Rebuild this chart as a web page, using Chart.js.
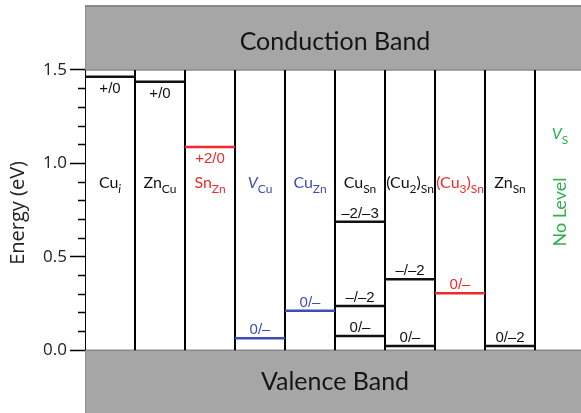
<!DOCTYPE html>
<html>
<head>
<meta charset="utf-8">
<script src="https://cdn.jsdelivr.net/npm/chart.js@4.4.1/dist/chart.umd.min.js"></script>
<style>
  html, body { margin: 0; padding: 0; background: #fff; }
  #wrap { width: 581px; height: 413px; position: relative; }
</style>
</head>
<body>
<div id="wrap"><canvas id="c"></canvas></div>
<script>
// Defect names: _{...} marks a subscript, *...* marks italics
const defectNames = ['Cu_{*i*}', 'Zn_{Cu}', 'Sn_{Zn}', '*V*_{Cu}', 'Cu_{Zn}', 'Cu_{Sn}',
                     '(Cu_{2})_{Sn}', '(Cu_{3})_{Sn}', 'Zn_{Sn}', '*V*_{S}'];
const defectColors = ['#111111', '#111111', '#f02a2a', '#3c4db5', '#3c4db5', '#111111',
                      '#111111', '#f02a2a', '#111111', '#2eb04f'];

// Transition levels: which defect, energy above the VBM (eV), charge-state label
const levelDefect = [0, 1, 2, 3, 4, 5, 5, 5, 6, 6, 7, 8];
const levelEnergy = [1.464, 1.437, 1.088, 0.064, 0.212, 0.688, 0.237, 0.076, 0.380, 0.023, 0.305, 0.023];
const levelLabel  = ['+/0', '+/0', '+2/0', '0/\u2013', '0/\u2013', '\u20132/\u20133', '\u2013/\u20132',
                     '0/\u2013', '\u2013/\u20132', '0/\u2013', '0/\u2013', '0/\u20132'];
const noLevelText = 'No Level';

// Band edges (eV)
const vbEdge = 0.0;
const cbEdge = 1.5;
const cbTop = 1.842;
const bandNames = ['Conduction Band', 'Valence Band'];

// Axis ticks
const tickValues = [0, 0.1, 0.2, 0.3, 0.4, 0.5, 0.6, 0.7, 0.8, 0.9, 1.0, 1.1, 1.2, 1.3, 1.4, 1.5];
const majorTicks = [0, 0.5, 1.0, 1.5];
const tickLabels = ['0.0', '0.5', '1.0', '1.5'];
const axisTitle = 'Energy (eV)';

const yMin = -0.3355, yMax = 1.8745;
const xMax = 9.92;
const bandGray = '#a6a6a6', bandEdge = '#8a8a8a';

function parseRich(s) {
  const out = []; let sub = false, it = false, buf = '';
  const push = () => { if (buf) { out.push({ t: buf, sub, it }); buf = ''; } };
  for (let k = 0; k < s.length; k++) {
    const ch = s[k];
    if (ch === '_' && s[k + 1] === '{') { push(); sub = true; k++; }
    else if (ch === '}' && sub) { push(); sub = false; }
    else if (ch === '*') { push(); it = !it; }
    else buf += ch;
  }
  push();
  return out;
}

function drawRich(ctx, pieces, cx, cy, color, size, subSize, family) {
  const fontOf = p => `${p.it ? 'italic ' : ''}${p.sub ? subSize : size}px ${family}`;
  let w = 0;
  pieces.forEach(p => { ctx.font = fontOf(p); p.w = ctx.measureText(p.t).width; w += p.w; });
  let x = cx - w / 2;
  const base = cy + size * 0.36;
  ctx.fillStyle = color; ctx.textAlign = 'left'; ctx.textBaseline = 'alphabetic';
  pieces.forEach(p => {
    ctx.font = fontOf(p);
    ctx.fillText(p.t, x, p.sub ? base + size * 0.3 : base);
    x += p.w;
  });
}

const datasets = [];
const line = (data, color, width, order, extra) =>
  Object.assign({ data, borderColor: color, borderWidth: width, showLine: true, pointRadius: 0,
                  tension: 0, fill: false, order, borderCapStyle: 'butt' }, extra || {});

// transition levels
levelEnergy.forEach((e, k) => {
  const i = levelDefect[k];
  datasets.push(line([{ x: i, y: e }, { x: i + 1, y: e }], defectColors[i], 2.5, 0));
});
// column separators (the first one doubles as the axis line)
for (let i = 0; i < defectNames.length; i++) {
  datasets.push(line([{ x: i, y: vbEdge }, { x: i, y: cbEdge }], '#000', 2, 1));
}
// conduction band
datasets.push(line([{ x: 0, y: cbTop }, { x: 10, y: cbTop }], bandEdge, 2, 4,
  { fill: { value: cbEdge }, backgroundColor: bandGray }));
datasets.push(line([{ x: 10, y: cbEdge }, { x: 0, y: cbEdge }, { x: 0, y: cbTop }], bandEdge, 1.5, 3));
// valence band
datasets.push(line([{ x: 0, y: vbEdge }, { x: 10, y: vbEdge }], bandEdge, 1.5, 4,
  { fill: 'start', backgroundColor: bandGray }));
datasets.push(line([{ x: 0, y: vbEdge }, { x: 0, y: yMin }], bandEdge, 1.5, 3));

const isMajor = v => majorTicks.some(m => Math.abs(m - v) < 1e-6);

const textPlugin = {
  id: 'defectText',
  afterDatasetsDraw(chart) {
    const { ctx, scales: { x, y } } = chart;
    ctx.save();
    // band names
    ctx.fillStyle = '#151515'; ctx.textAlign = 'center'; ctx.textBaseline = 'middle';
    ctx.font = '25px Lato';
    ctx.fillText(bandNames[0], x.getPixelForValue(defectNames.length / 2), y.getPixelForValue(1.65));
    ctx.fillText(bandNames[1], x.getPixelForValue(defectNames.length / 2), y.getPixelForValue((vbEdge + yMin) / 2));
    // axis title, centred on the labelled part of the axis
    ctx.save();
    ctx.translate(y.left + 18, y.getPixelForValue(0.735));
    ctx.rotate(-Math.PI / 2);
    ctx.fillStyle = '#222'; ctx.font = '20px "Open Sans"';
    ctx.fillText(axisTitle, 0, 0);
    ctx.restore();
    // defect names
    defectNames.forEach((n, i) => {
      const cx = x.getPixelForValue(i + 0.5);
      const last = i === defectNames.length - 1;
      drawRich(ctx, parseRich(n), cx, y.getPixelForValue(last ? 1.163 : 0.90), defectColors[i], 16, 12, 'Lato');
    });
    // "No Level" for the defect without levels
    const lastIdx = defectNames.length - 1;
    ctx.save();
    ctx.translate(x.getPixelForValue(lastIdx + 0.5), y.getPixelForValue(0.74));
    ctx.rotate(-Math.PI / 2);
    ctx.fillStyle = defectColors[lastIdx]; ctx.font = '18px Lato';
    ctx.textAlign = 'center'; ctx.textBaseline = 'middle';
    ctx.fillText(noLevelText, 0, 0);
    ctx.restore();
    // level labels
    ctx.font = '15px "Liberation Sans"'; ctx.textAlign = 'center'; ctx.textBaseline = 'alphabetic';
    levelEnergy.forEach((e, k) => {
      const i = levelDefect[k];
      const py = y.getPixelForValue(e);
      const below = e > 1.0;
      const cy = below ? py + 10.5 : py - 9.5;
      ctx.fillStyle = defectColors[i];
      ctx.fillText(levelLabel[k], x.getPixelForValue(i + 0.5), cy + 5.4);
    });
    ctx.restore();
  }
};

new Chart(document.getElementById('c'), {
  type: 'scatter',
  data: { datasets },
  options: {
    responsive: true, maintainAspectRatio: false, animation: false,
    layout: { padding: 0 },
    plugins: { legend: { display: false }, tooltip: { enabled: false } },
    scales: {
      x: { type: 'linear', min: 0, max: xMax, display: false },
      y: {
        type: 'linear', min: yMin, max: yMax,
        afterBuildTicks: s => { s.ticks = tickValues.map(v => ({ value: v })); },
        afterFit: s => { s.width = 85; s.paddingTop = 0; s.paddingBottom = 0; },
        border: { display: false },
        grid: {
          drawOnChartArea: false, tickLength: 15, tickColor: '#000', tickWidth: 1.5,
          tickBorderDash: c => (c.tick && isMajor(c.tick.value)) ? [] : [0, 8, 8, 0]
        },
        ticks: {
          padding: 3, color: '#222', font: { family: '"Open Sans"', size: 17 },
          callback: v => { const m = majorTicks.findIndex(t => Math.abs(t - v) < 1e-6); return m >= 0 ? tickLabels[m] : ''; }
        }
      }
    }
  },
  plugins: [textPlugin]
});
</script>
</body>
</html>
